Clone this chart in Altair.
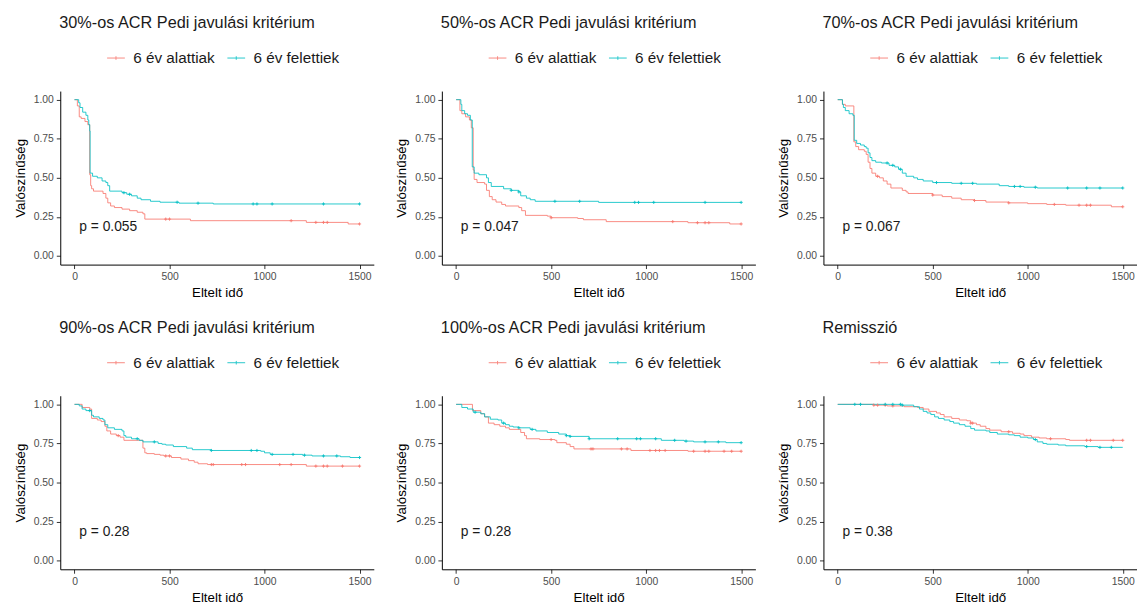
import altair as alt
import pandas as pd

GROUPS = ["6 év alattiak", "6 év felettiek"]
COLORS = ["#F8766D", "#00BFC4"]
TITLES = [
    "30%-os ACR Pedi javulási kritérium",
    "50%-os ACR Pedi javulási kritérium",
    "70%-os ACR Pedi javulási kritérium",
    "90%-os ACR Pedi javulási kritérium",
    "100%-os ACR Pedi javulási kritérium",
    "Remisszió",
]
PVALS = ["p = 0.055", "p = 0.047", "p = 0.067", "p = 0.28", "p = 0.28", "p = 0.38"]
PVAL_X = 25
PVAL_Y = 0.185
T_END = 1500
X_TICKS = [0, 500, 1000, 1500]
Y_TICKS = [0, 0.25, 0.5, 0.75, 1.0]

# ---- 30% ----
p1_red_t = [0, 15, 25, 35, 55, 70, 80, 85, 90, 100, 150, 165, 175, 190, 210, 250, 290, 330, 360, 370, 610, 1220, 1440]
p1_red_s = [1.0, 0.96, 0.89, 0.88, 0.86, 0.84, 0.52, 0.45, 0.43, 0.415, 0.40, 0.37, 0.34, 0.32, 0.31, 0.30, 0.29, 0.28, 0.27, 0.236, 0.226, 0.215, 0.205]
p1_red_c = [480, 500, 1140, 1270, 1310, 1330, 1500]
p1_blue_t = [0, 22, 29, 43, 60, 70, 75, 80, 82, 95, 120, 145, 165, 175, 185, 250, 275, 300, 330, 350, 400, 450, 550, 730]
p1_blue_s = [1.0, 0.98, 0.95, 0.92, 0.90, 0.87, 0.84, 0.80, 0.53, 0.51, 0.50, 0.48, 0.47, 0.45, 0.415, 0.405, 0.395, 0.385, 0.37, 0.36, 0.35, 0.344, 0.338, 0.333]
p1_blue_c = [260, 290, 540, 650, 940, 960, 1040, 1310, 1500]

# ---- 50% ----
p2_red_t = [0, 20, 30, 50, 70, 80, 90, 95, 110, 150, 160, 175, 190, 210, 240, 260, 330, 345, 365, 480, 500, 640, 670, 790, 1220, 1440]
p2_red_s = [1.0, 0.93, 0.91, 0.89, 0.87, 0.82, 0.55, 0.49, 0.47, 0.46, 0.42, 0.38, 0.36, 0.345, 0.33, 0.32, 0.31, 0.29, 0.26, 0.255, 0.245, 0.24, 0.232, 0.22, 0.213, 0.205]
p2_red_c = [500, 1140, 1270, 1310, 1330, 1500]
p2_blue_t = [0, 25, 30, 45, 60, 75, 85, 95, 120, 160, 170, 185, 250, 290, 330, 340, 370, 390, 416, 750]
p2_blue_s = [1.0, 0.97, 0.93, 0.91, 0.90, 0.87, 0.57, 0.53, 0.52, 0.50, 0.47, 0.445, 0.43, 0.42, 0.41, 0.385, 0.37, 0.36, 0.35, 0.343]
p2_blue_c = [290, 330, 520, 650, 940, 960, 1040, 1310, 1500]

# ---- 70% ----
p3_red_t = [0, 25, 40, 85, 95, 110, 140, 150, 160, 170, 180, 200, 220, 240, 260, 280, 340, 360, 370, 500, 550, 600, 650, 720, 780, 900, 1000, 1100, 1200, 1440]
p3_red_s = [1.0, 0.97, 0.96, 0.73, 0.70, 0.68, 0.67, 0.65, 0.60, 0.56, 0.53, 0.51, 0.50, 0.48, 0.46, 0.435, 0.42, 0.41, 0.40, 0.39, 0.38, 0.37, 0.36, 0.355, 0.345, 0.34, 0.335, 0.33, 0.325, 0.315]
p3_red_c = [210, 500, 720, 900, 1140, 1270, 1310, 1330, 1500]
p3_blue_t = [0, 25, 30, 40, 60, 80, 87, 100, 120, 140, 150, 160, 170, 180, 200, 230, 270, 300, 320, 340, 360, 400, 420, 450, 500, 600, 730, 850, 900, 980, 1050]
p3_blue_s = [1.0, 0.97, 0.95, 0.93, 0.91, 0.90, 0.74, 0.72, 0.71, 0.70, 0.69, 0.66, 0.63, 0.61, 0.60, 0.595, 0.58, 0.57, 0.555, 0.53, 0.51, 0.50, 0.49, 0.48, 0.47, 0.465, 0.46, 0.45, 0.445, 0.44, 0.435]
p3_blue_c = [260, 290, 330, 520, 650, 710, 930, 960, 1040, 1210, 1310, 1380, 1500]

# ---- 90% ----
p4_red_t = [0, 40, 80, 90, 120, 140, 160, 170, 190, 220, 240, 260, 360, 370, 380, 420, 450, 470, 510, 560, 600, 630, 650, 700, 1220]
p4_red_s = [1.0, 0.98, 0.97, 0.91, 0.90, 0.89, 0.86, 0.83, 0.81, 0.80, 0.79, 0.77, 0.72, 0.69, 0.685, 0.68, 0.675, 0.67, 0.66, 0.65, 0.64, 0.63, 0.62, 0.615, 0.605]
p4_red_c = [230, 480, 500, 720, 730, 880, 900, 1080, 1140, 1270, 1310, 1330, 1410, 1500]
p4_blue_t = [0, 25, 40, 60, 90, 100, 130, 150, 160, 175, 210, 250, 260, 270, 300, 340, 360, 440, 460, 480, 520, 590, 620, 720, 980, 1000, 1030, 1200, 1250, 1400, 1450]
p4_blue_s = [1.0, 0.99, 0.97, 0.96, 0.93, 0.92, 0.91, 0.90, 0.87, 0.85, 0.84, 0.83, 0.80, 0.79, 0.78, 0.77, 0.76, 0.75, 0.745, 0.74, 0.73, 0.72, 0.71, 0.705, 0.70, 0.69, 0.68, 0.675, 0.67, 0.665, 0.66]
p4_blue_c = [80, 330, 420, 720, 930, 960, 1040, 1150, 1210, 1310, 1380, 1500]

# ---- 100% ----
p5_red_t = [0, 86, 130, 150, 170, 200, 230, 260, 280, 340, 360, 370, 440, 520, 530, 580, 600, 620, 920, 1220]
p5_red_s = [1.0, 0.96, 0.94, 0.92, 0.88, 0.87, 0.86, 0.85, 0.84, 0.82, 0.80, 0.78, 0.775, 0.77, 0.755, 0.745, 0.73, 0.715, 0.705, 0.70]
p5_red_c = [500, 710, 720, 870, 900, 1020, 1050, 1070, 1100, 1250, 1310, 1330, 1410, 1450, 1500]
p5_blue_t = [0, 30, 60, 90, 130, 150, 180, 220, 240, 260, 280, 300, 330, 390, 420, 480, 540, 580, 600, 700, 1080, 1200, 1250, 1420]
p5_blue_s = [1.0, 0.98, 0.97, 0.95, 0.94, 0.92, 0.905, 0.90, 0.88, 0.87, 0.86, 0.855, 0.85, 0.84, 0.83, 0.82, 0.81, 0.80, 0.795, 0.78, 0.77, 0.765, 0.76, 0.755]
p5_blue_c = [100, 250, 330, 400, 580, 600, 700, 850, 950, 970, 1050, 1150, 1210, 1310, 1380, 1500]

# ---- Remisszió ----
p6_red_t = [0, 190, 260, 350, 420, 450, 480, 520, 540, 560, 600, 640, 680, 700, 730, 750, 780, 800, 860, 920, 960, 980, 1020, 1060, 1100, 1200, 1220]
p6_red_s = [1.0, 0.995, 0.99, 0.985, 0.98, 0.97, 0.955, 0.945, 0.935, 0.92, 0.91, 0.90, 0.895, 0.88, 0.87, 0.86, 0.845, 0.835, 0.825, 0.815, 0.81, 0.80, 0.79, 0.785, 0.78, 0.775, 0.77]
p6_red_c = [190, 210, 250, 290, 700, 710, 900, 1120, 1310, 1330, 1450, 1500]
p6_blue_t = [0, 340, 400, 430, 450, 470, 490, 510, 530, 560, 590, 610, 640, 670, 700, 720, 780, 800, 840, 900, 930, 960, 1000, 1030, 1050, 1080, 1100, 1160, 1200, 1300, 1370]
p6_blue_s = [1.0, 0.995, 0.985, 0.97, 0.955, 0.945, 0.935, 0.92, 0.91, 0.90, 0.89, 0.88, 0.87, 0.86, 0.845, 0.835, 0.83, 0.82, 0.81, 0.805, 0.80, 0.79, 0.785, 0.775, 0.76, 0.75, 0.745, 0.74, 0.735, 0.73, 0.725]
p6_blue_c = [90, 120, 250, 290, 330, 340, 1040, 1310, 1380, 1440]

PANELS = [
    ((p1_red_t, p1_red_s, p1_red_c), (p1_blue_t, p1_blue_s, p1_blue_c)),
    ((p2_red_t, p2_red_s, p2_red_c), (p2_blue_t, p2_blue_s, p2_blue_c)),
    ((p3_red_t, p3_red_s, p3_red_c), (p3_blue_t, p3_blue_s, p3_blue_c)),
    ((p4_red_t, p4_red_s, p4_red_c), (p4_blue_t, p4_blue_s, p4_blue_c)),
    ((p5_red_t, p5_red_s, p5_red_c), (p5_blue_t, p5_blue_s, p5_blue_c)),
    ((p6_red_t, p6_red_s, p6_red_c), (p6_blue_t, p6_blue_s, p6_blue_c)),
]

FONT = "Liberation Sans"
W, H = 318, 176


def step_at(ts, ss, c):
    v = ss[0]
    for t, s in zip(ts, ss):
        if t <= c:
            v = s
    return v


def make_panel(i):
    series = PANELS[i]
    line_rows, cens_rows = [], []
    for g, (ts, ss, cs) in zip(GROUPS, series):
        for t, s in zip(list(ts) + [T_END], list(ss) + [ss[-1]]):
            line_rows.append({"t": t, "s": s, "group": g})
        for c in cs:
            cens_rows.append({"t": c, "s": step_at(ts, ss, c), "group": g})
    ldf = pd.DataFrame(line_rows)
    cdf = pd.DataFrame(cens_rows)
    tdf = pd.DataFrame({"t": [PVAL_X], "s": [PVAL_Y], "label": [PVALS[i]]})

    x = alt.X("t:Q", scale=alt.Scale(domain=[-75, 1575], nice=False, zero=False),
              axis=alt.Axis(values=X_TICKS, title="Eltelt idő", format="d"))
    y = alt.Y("s:Q", scale=alt.Scale(domain=[-0.055, 1.055], nice=False, zero=False),
              axis=alt.Axis(values=Y_TICKS, title="Valószínűség", format=".2f"))
    color = alt.Color(
        "group:N",
        scale=alt.Scale(domain=GROUPS, range=COLORS),
        legend=alt.Legend(
            title=None, orient="none", direction="horizontal",
            legendX=47, legendY=-43,
            symbolType="M-1,0L1,0M0,-0.2L0,0.2", symbolSize=324,
            symbolStrokeWidth=1, labelFontSize=15.5, labelFont=FONT,
            labelColor="#1a1a1a", columnPadding=10, labelOffset=8,
        ),
    )
    lines = alt.Chart(ldf).mark_line(interpolate="step-after", strokeWidth=1, opacity=0.85).encode(
        x=x, y=y, color=color
    )
    cens = alt.Chart(cdf).mark_point(shape="M-1,0L1,0M0,-1L0,1", size=10, filled=False,
                                      strokeWidth=1, opacity=0.9).encode(
        x="t:Q", y="s:Q", color=alt.Color("group:N")
    )
    txt = alt.Chart(tdf).mark_text(align="left", baseline="middle", fontSize=14, font=FONT,
                                    color="#1a1a1a").encode(x="t:Q", y="s:Q", text="label:N")
    return alt.layer(lines, cens, txt).properties(
        width=W, height=H,
        title=alt.TitleParams(TITLES[i], anchor="start", frame="group", dx=-1, fontSize=16.5,
                              fontWeight="normal", font=FONT, color="#1a1a1a", offset=17),
    )


row1 = alt.hconcat(*[make_panel(i) for i in range(3)], spacing=21).resolve_scale(color="independent")
row2 = alt.hconcat(*[make_panel(i) for i in range(3, 6)], spacing=21).resolve_scale(color="independent")

chart = alt.vconcat(row1, row2, spacing=21).resolve_scale(color="independent").properties(
    padding={"left": 5, "top": 3, "right": 0, "bottom": 0}
).configure_view(stroke=None).configure_axis(
    grid=False, domainColor="#000000", domainWidth=1, tickColor="#333333", tickSize=4,
    labelFont=FONT, labelFontSize=10.5, labelColor="#4D4D4D", labelPadding=3,
    titleFont=FONT, titleFontSize=13.5, titleFontWeight="normal", titleColor="#000000",
).configure_axisY(titlePadding=6).configure_axisX(titlePadding=4)

chart.save("out.html", embed_options={"renderer": "svg", "actions": False})
